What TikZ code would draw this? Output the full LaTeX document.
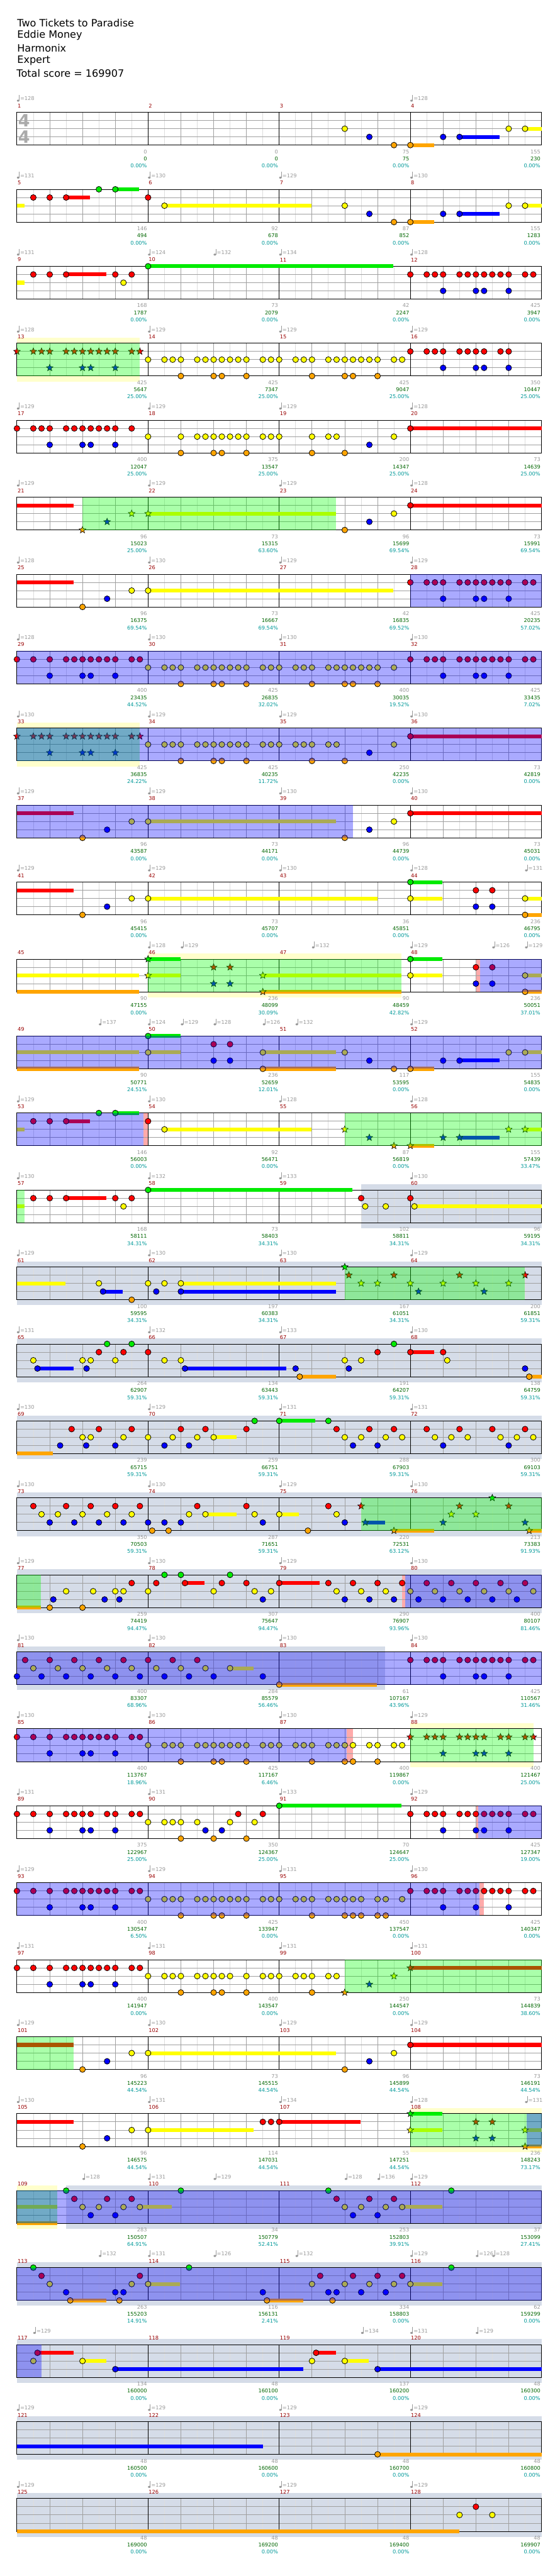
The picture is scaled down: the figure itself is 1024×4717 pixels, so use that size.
\documentclass[tikz,border=0pt]{standalone}
\usepackage{fontspec}
\setmainfont{DejaVu Sans}
\usetikzlibrary{shapes.geometric}
\definecolor{lane0}{RGB}{0,235,0}
\definecolor{lane1}{RGB}{255,0,0}
\definecolor{lane2}{RGB}{255,255,0}
\definecolor{lane3}{RGB}{0,0,255}
\definecolor{lane4}{RGB}{255,165,0}
\definecolor{spG}{RGB}{0,255,0}
\definecolor{odB}{RGB}{0,0,255}
\definecolor{ybC}{RGB}{255,255,204}
\definecolor{gbC}{RGB}{213,220,232}
\definecolor{pkC}{RGB}{255,170,170}
\definecolor{gridL}{RGB}{221,221,221}
\definecolor{gridD}{RGB}{160,160,160}
\definecolor{txG}{RGB}{153,153,153}
\definecolor{mnC}{RGB}{153,0,0}
\definecolor{scG}{RGB}{0,102,0}
\definecolor{scT}{RGB}{0,153,153}
\definecolor{tsC}{RGB}{170,170,170}
\tikzset{
  rowat/.style={xshift=31pt,yshift={-(205.7+140.95*#1)*1pt}},
  notec/.style={draw=black,line width=0.9pt},
  starn/.style={star,star points=5,star point ratio=2.3,minimum size=13pt,inner sep=0pt,draw=black,line width=0.7pt},
  lbl/.style={font=\fontsize{9.5}{10}\selectfont,inner sep=0pt},
}
\newcommand\Nt[2]{\foreach \p in {#2}{\filldraw[notec,fill=lane#1] (\p,{15*#1}) circle[radius=5.3pt];}}
\newcommand\Su[3]{\fill[lane#1] (#2,{15*#1-3.5}) rectangle (#3,{15*#1+3.5});}
\newcommand\Sr[2]{\foreach \p in {#2}{\node[starn,fill=lane#1] at (\p,{15*#1}) {};}}
\newcommand\SP[2]{\fill[spG,opacity=0.3333] (#1,0) rectangle (#2,60);}
\newcommand\OD[2]{\fill[odB,opacity=0.3333] (#1,0) rectangle (#2,60);}
\newcommand\YB[2]{\fill[ybC] (#1,-10) rectangle (#2,0); \fill[ybC] (#1,60) rectangle (#2,70);}
\newcommand\GB[2]{\fill[gbC] (#1,-10) rectangle (#2,70);}
\newcommand\PK[2]{\fill[pkC] (#1,0) rectangle (#2,60);}
\newcommand\Grid{%
 \foreach \i in {2,6,...,62} \draw[gridL] (\i,0) -- (\i,60);
 \foreach \yy in {15,30,45} \draw[gridD] (0,\yy) -- (64,\yy);
 \foreach \i in {4,8,12,20,24,28,36,40,44,52,56,60} \draw[gridD] (\i,0) -- (\i,60);
 \foreach \i in {16,32,48} \draw[black] (\i,0) -- (\i,60);
 \draw[black] (0,0) rectangle (64,60);}
\newcommand\Ms[1]{\gdef\curm{#1}\foreach \i [evaluate=\i as \mm using int(#1+\i)] in {0,1,2,3}{\node[lbl,text=mnC,anchor=west] (mn\mm) at ({16*\i+0.05},-12) {\mm};}}
\newcommand\Tp[2]{\fill[txG] ({#1+0.15},-21.4) ellipse[x radius=2.4pt,y radius=1.9pt];
 \draw[txG,line width=0.9pt] ({#1+0.27},-21.5) -- ({#1+0.27},-32);
 \node[lbl,text=txG,anchor=west] (tp\curm x#1) at ({#1+0.36},-25) {=#2};}
\newcommand\Sc[4]{%
 \node[lbl,text=txG,anchor=east] (sa\curm x#1) at ({16*#1-0.1},72) {#2};
 \node[lbl,text=scG,anchor=east] (sb\curm x#1) at ({16*#1-0.1},85) {#3};
 \node[lbl,text=scT,anchor=east] (sc\curm x#1) at ({16*#1-0.1},98) {#4\%};}
\begin{document}
\begin{tikzpicture}[x=15pt,y=-1pt,line width=1pt]
\useasboundingbox[fill=white] (0pt,0pt) rectangle (1024pt,-4717pt);
\begin{scope}[font=\fontsize{18.5}{20}\selectfont]
\node[anchor=west,inner sep=0pt] (t1) at (31pt,-42pt) {Two Tickets to Paradise};
\node[anchor=west,inner sep=0pt] (t2) at (31pt,-65pt) {Eddie Money};
\node[anchor=west,inner sep=0pt] (t3) at (31pt,-88pt) {Harmonix};
\node[anchor=west,inner sep=0pt] (t4) at (31pt,-111pt) {Expert};
\node[anchor=west,inner sep=0pt] (t5) at (30pt,-134pt) {Total score = 169907};
\end{scope}
% ---------- row 0
\begin{scope}[rowat=0]
\Grid
\node[font=\bfseries\fontsize{31}{31}\selectfont,text=tsC,inner sep=0pt] (ts1) at (0.87,15.5) {4};
\node[font=\bfseries\fontsize{31}{31}\selectfont,text=tsC,inner sep=0pt] (ts2) at (0.87,45) {4};
\Ms{1}\Tp{0}{128}\Tp{48}{128}
\Sc{1}{0}{0}{0.00}\Sc{2}{0}{0}{0.00}\Sc{3}{75}{75}{0.00}\Sc{4}{155}{230}{0.00}
\Su{4}{48}{50.9}\Su{3}{54}{58.9}\Su{2}{62}{64}
\Nt{2}{40,60,62}\Nt{3}{43,52,54}\Nt{4}{46,48}
\end{scope}
% ---------- row 1
\begin{scope}[rowat=1]
\Grid
\Ms{5}\Tp{0}{131}\Tp{16}{130}\Tp{32}{129}\Tp{48}{130}
\Sc{1}{146}{494}{0.00}\Sc{2}{92}{678}{0.00}\Sc{3}{87}{852}{0.00}\Sc{4}{155}{1283}{0.00}
\Su{2}{0}{0.9}\Su{1}{6}{8.9}\Su{0}{12}{14.9}\Su{2}{18}{35.9}\Su{4}{48}{50.9}\Su{3}{54}{58.9}\Su{2}{62}{64}
\Nt{1}{2,4,6,16}\Nt{0}{10,12}\Nt{2}{18,40,60,62}\Nt{3}{43,52,54}\Nt{4}{46,48}
\end{scope}
% ---------- row 2
\begin{scope}[rowat=2]
\Grid
\Ms{9}\Tp{0}{131}\Tp{16}{124}\Tp{24}{132}\Tp{32}{134}\Tp{48}{128}
\Sc{1}{168}{1787}{0.00}\Sc{2}{73}{2079}{0.00}\Sc{3}{42}{2247}{0.00}\Sc{4}{425}{3947}{0.00}
\Su{2}{0}{0.9}\Su{1}{6}{10.9}\Su{0}{16}{45.9}
\Nt{1}{2,4,6,12,14,48,50,51,52,54,55,56,57,58,59,60,62,63}\Nt{2}{13}\Nt{0}{16}\Nt{3}{52,56,57,60}
\end{scope}
% ---------- row 3
\begin{scope}[rowat=3]
\YB{0}{14.98}
\Grid
\Ms{13}\Tp{0}{128}\Tp{16}{129}\Tp{32}{129}\Tp{48}{129}
\Sc{1}{425}{5647}{25.00}\Sc{2}{425}{7347}{25.00}\Sc{3}{425}{9047}{25.00}\Sc{4}{350}{10447}{25.00}
\Sr{1}{0,2,3,4,6,7,8,9,10,11,12,14,15}\Sr{3}{4,8,9,12}
\Nt{2}{16,18,19,20,22,23,24,25,26,27,28,30,31,32,34,35,36,38,39,40,41,42,43,44,46,47}
\Nt{4}{20,24,25,28,36,40,41,44}\Nt{1}{48,50,51,52,54,55,56,57,59,60}\Nt{3}{52,56,57,60}
\SP{0}{14.98}
\end{scope}
% ---------- row 4
\begin{scope}[rowat=4]
\Grid
\Ms{17}\Tp{0}{129}\Tp{16}{129}\Tp{32}{129}\Tp{48}{128}
\Sc{1}{400}{12047}{25.00}\Sc{2}{375}{13547}{25.00}\Sc{3}{200}{14347}{25.00}\Sc{4}{73}{14639}{25.00}
\Su{1}{48}{64}
\Nt{1}{0,2,3,4,6,7,8,9,10,11,12,14,48}\Nt{3}{4,8,9,12,43}
\Nt{2}{16,20,22,23,24,25,26,27,28,30,31,32,36,38,39,46}\Nt{4}{20,24,25,28,36,40}
\end{scope}
% ---------- row 5
\begin{scope}[rowat=5]
\Grid
\Ms{21}\Tp{0}{129}\Tp{16}{129}\Tp{32}{129}\Tp{48}{128}
\Sc{1}{96}{15023}{25.00}\Sc{2}{73}{15315}{63.60}\Sc{3}{96}{15699}{69.54}\Sc{4}{73}{15991}{69.54}
\Su{1}{0}{6.9}\Su{2}{16}{38.9}\Su{1}{48}{64}
\Sr{4}{8}\Sr{3}{11}\Sr{2}{14,16}
\Nt{4}{40}\Nt{3}{43}\Nt{2}{46}\Nt{1}{48}
\SP{8}{38.9}
\end{scope}
% ---------- row 6
\begin{scope}[rowat=6]
\Grid
\Ms{25}\Tp{0}{128}\Tp{16}{130}\Tp{32}{129}\Tp{48}{129}
\Sc{1}{96}{16375}{69.54}\Sc{2}{73}{16667}{69.54}\Sc{3}{42}{16835}{69.52}\Sc{4}{425}{20235}{57.02}
\Su{1}{0}{6.9}\Su{2}{16}{45.9}
\Nt{4}{8}\Nt{3}{11,52,56,57,60}\Nt{2}{14,16}\Nt{1}{48,50,51,52,54,55,56,57,58,59,60,62,63}
\OD{48}{64}
\end{scope}
% ---------- row 7
\begin{scope}[rowat=7]
\Grid
\Ms{29}\Tp{0}{128}\Tp{16}{130}\Tp{32}{130}\Tp{48}{130}
\Sc{1}{400}{23435}{44.52}\Sc{2}{425}{26835}{32.02}\Sc{3}{400}{30035}{19.52}\Sc{4}{425}{33435}{7.02}
\Nt{1}{0,2,4,6,7,8,9,10,11,12,14,15,48,50,51,52,54,55,56,57,58,59,60,62,63}\Nt{3}{4,8,9,12,52,56,57,60}
\Nt{2}{16,18,19,20,22,23,24,25,26,27,28,30,31,32,34,35,36,38,39,40,41,42,43,44,46}\Nt{4}{20,24,25,28,36,40,41,44}
\OD{0}{64}
\end{scope}
% ---------- row 8
\begin{scope}[rowat=8]
\YB{0}{14.98}
\Grid
\Ms{33}\Tp{0}{130}\Tp{16}{129}\Tp{32}{129}\Tp{48}{130}
\Sc{1}{425}{36835}{24.22}\Sc{2}{425}{40235}{11.72}\Sc{3}{250}{42235}{0.00}\Sc{4}{73}{42819}{0.00}
\Su{1}{48}{64}
\Sr{1}{0,2,3,4,6,7,8,9,10,11,12,14,15}\Sr{3}{4,8,9,12}
\Nt{2}{16,18,19,20,22,23,24,25,26,27,28,30,31,32,34,35,36,38,39,46}\Nt{4}{20,24,25,28,36,40}\Nt{3}{43}\Nt{1}{48}
\SP{0}{14.98}\OD{0}{64}
\end{scope}
% ---------- row 9
\begin{scope}[rowat=9]
\Grid
\Ms{37}\Tp{0}{129}\Tp{16}{129}\Tp{32}{130}\Tp{48}{130}
\Sc{1}{96}{43587}{0.00}\Sc{2}{73}{44171}{0.00}\Sc{3}{96}{44739}{0.00}\Sc{4}{73}{45031}{0.00}
\Su{1}{0}{6.9}\Su{2}{16}{38.9}\Su{1}{48}{64}
\Nt{4}{8,40}\Nt{3}{11,43}\Nt{2}{14,16,46}\Nt{1}{48}
\OD{0}{40.97}
\end{scope}
% ---------- row 10
\begin{scope}[rowat=10]
\Grid
\Ms{41}\Tp{0}{129}\Tp{16}{129}\Tp{32}{130}\Tp{48}{128}\Tp{62}{131}
\Sc{1}{96}{45415}{0.00}\Sc{2}{73}{45707}{0.00}\Sc{3}{36}{45851}{0.00}\Sc{4}{236}{46795}{0.00}
\Su{1}{0}{6.9}\Su{2}{16}{44}\Su{0}{48}{51.9}\Su{2}{48}{51.9}\Su{2}{62}{64}\Su{4}{62}{64}
\Nt{4}{8,62}\Nt{3}{11,56,58}\Nt{2}{14,16,48,62}\Nt{0}{48}\Nt{1}{56,58}
\end{scope}
% ---------- row 11
\begin{scope}[rowat=11]
\YB{16}{46.9}\PK{56}{56.5}
\Grid
\Ms{45}\Tp{16}{128}\Tp{20}{129}\Tp{36}{132}\Tp{48}{129}\Tp{58}{126}\Tp{62}{129}
\Sc{1}{90}{47155}{0.00}\Sc{2}{236}{48099}{30.09}\Sc{3}{90}{48459}{42.82}\Sc{4}{236}{50051}{37.01}
\Su{2}{0}{14.9}\Su{4}{0}{14.9}\Su{0}{16}{20}\Su{2}{16}{20}\Su{2}{30}{46.9}\Su{4}{30}{46.9}
\Su{0}{48}{51.9}\Su{2}{48}{51.9}\Su{2}{62}{64}\Su{4}{62}{64}
\Sr{0}{16}\Sr{2}{16,30}\Sr{1}{24,26}\Sr{3}{24,26}\Sr{4}{30}
\Nt{0}{48}\Nt{2}{48,62}\Nt{1}{56,58}\Nt{3}{56,58}\Nt{4}{62}
\SP{16}{46.9}\OD{56.5}{64}
\end{scope}
% ---------- row 12
\begin{scope}[rowat=12]
\Grid
\Ms{49}\Tp{10}{137}\Tp{16}{124}\Tp{20}{129}\Tp{24}{128}\Tp{30}{126}\Tp{34}{132}\Tp{48}{129}
\Sc{1}{90}{50771}{24.51}\Sc{2}{236}{52659}{12.01}\Sc{3}{117}{53595}{0.00}\Sc{4}{155}{54835}{0.00}
\Su{2}{0}{14.9}\Su{4}{0}{14.9}\Su{0}{16}{20}\Su{2}{16}{20}\Su{2}{30}{38.9}\Su{4}{30}{38.9}
\Su{4}{48}{50.9}\Su{3}{54}{58.9}\Su{2}{62}{64}
\Nt{0}{16}\Nt{2}{16,30,40,60,62}\Nt{1}{24,26}\Nt{3}{24,26,43,52,54}\Nt{4}{30,46,48}
\OD{0}{64}
\end{scope}
% ---------- row 13
\begin{scope}[rowat=13]
\PK{15.4}{16}
\Grid
\Ms{53}\Tp{0}{129}\Tp{16}{130}\Tp{32}{128}\Tp{48}{128}
\Sc{1}{146}{56003}{0.00}\Sc{2}{92}{56471}{0.00}\Sc{3}{87}{56819}{0.00}\Sc{4}{155}{57439}{33.47}
\Su{2}{0}{0.9}\Su{1}{6}{8.9}\Su{0}{12}{14.9}\Su{2}{18}{35.9}\Su{4}{48}{50.9}\Su{3}{54}{58.9}\Su{2}{62}{64}
\Nt{1}{2,4,6,16}\Nt{0}{10,12}\Nt{2}{18}
\Sr{2}{40,60,62}\Sr{3}{43,52,54}\Sr{4}{46,48}
\OD{0}{15.4}\SP{40}{64}
\end{scope}
% ---------- row 14
\begin{scope}[rowat=14]
\GB{42}{64}
\Grid
\Ms{57}\Tp{0}{130}\Tp{16}{132}\Tp{32}{133}\Tp{48}{130}
\Sc{1}{168}{58111}{34.31}\Sc{2}{73}{58403}{34.31}\Sc{3}{102}{58811}{34.31}\Sc{4}{96}{59195}{34.31}
\Su{2}{0}{0.9}\Su{1}{6}{10.9}\Su{0}{16}{40.9}\Su{2}{48.5}{64}
\Nt{1}{2,4,6,12,14,42,48}\Nt{2}{13,42.5,45,48.5}\Nt{0}{16}
\SP{0}{0.9}
\end{scope}
% ---------- row 15
\begin{scope}[rowat=15]
\GB{0}{64}
\Grid
\Ms{61}\Tp{0}{129}\Tp{16}{130}\Tp{32}{130}\Tp{48}{129}
\Sc{1}{100}{59595}{34.31}\Sc{2}{197}{60383}{34.31}\Sc{3}{167}{61051}{34.31}\Sc{4}{200}{61851}{59.31}
\Su{2}{0}{5.9}\Su{3}{10.5}{12.9}\Su{2}{20}{38.9}\Su{3}{20}{38.9}
\Nt{2}{10,16,18,20}\Nt{3}{10.5,17,20}\Nt{4}{14}
\Sr{0}{40}\Sr{1}{40.5,46,54,62}\Sr{2}{42,44,48,52,56,60}\Sr{3}{49,57}
\SP{40}{62}
\end{scope}
% ---------- row 16
\begin{scope}[rowat=16]
\GB{0}{64}
\Grid
\Ms{65}\Tp{0}{131}\Tp{16}{132}\Tp{32}{133}\Tp{48}{130}
\Sc{1}{264}{62907}{59.31}\Sc{2}{134}{63443}{59.31}\Sc{3}{191}{64207}{59.31}\Sc{4}{138}{64759}{59.31}
\Su{3}{2.5}{6.9}\Su{3}{20.5}{32.9}\Su{4}{34.5}{38.9}\Su{1}{48}{50.9}\Su{4}{62.5}{64}
\Nt{2}{2,8,9,12,18,20,40,42,52.5}\Nt{3}{2.5,8.5,20.5,34,40.5,62}\Nt{1}{10,13,16,44,48,52}\Nt{0}{11,14,46}\Nt{4}{34.5,62.5}
\end{scope}
% ---------- row 17
\begin{scope}[rowat=17]
\GB{0}{64}
\Grid
\Ms{69}\Tp{0}{130}\Tp{16}{129}\Tp{32}{131}\Tp{48}{131}
\Sc{1}{239}{65715}{59.31}\Sc{2}{259}{66751}{59.31}\Sc{3}{288}{67903}{59.31}\Sc{4}{300}{69103}{59.31}
\Su{4}{0}{4.4}\Su{2}{24}{26.8}\Su{0}{32}{36.4}
\Nt{3}{5.27,8.45,12,18,21,41,44,52,60}
\Nt{1}{6.67,10,14,20,23,28,39,43,46,50,54,58,62}
\Nt{2}{8,9,13,16,19,22,24,40,42,45,47,51,53,55,59,61,63}
\Nt{0}{29,32,38}
\end{scope}
% ---------- row 18
\begin{scope}[rowat=18]
\GB{0}{64}
\Grid
\Ms{73}\Tp{0}{130}\Tp{16}{130}\Tp{32}{129}\Tp{48}{130}
\Sc{1}{350}{70503}{59.31}\Sc{2}{287}{71651}{59.31}\Sc{3}{220}{72531}{63.12}\Sc{4}{213}{73383}{91.93}
\Su{2}{23}{26.8}\Su{2}{32}{34.4}\Su{3}{42.5}{44.9}\Su{4}{46}{50.9}\Su{4}{62.5}{64}
\Nt{1}{2,6,9,12,15,22,28,38}\Nt{2}{3,5,8,11,14,21,23,29,32,39}\Nt{3}{4,7,10,13,16,18,20,30,40}\Nt{4}{16.5,18.5,35.5}
\Sr{1}{42,54,60}\Sr{3}{42.5,52,62}\Sr{4}{46,62.5}\Sr{2}{53,56}\Sr{0}{58}
\SP{42}{64}
\end{scope}
% ---------- row 19
\begin{scope}[rowat=19]
\GB{0}{64}\PK{47}{47.4}
\Grid
\Ms{77}\Tp{0}{129}\Tp{16}{130}\Tp{32}{129}\Tp{48}{130}
\Sc{1}{259}{74419}{94.47}\Sc{2}{307}{75647}{94.47}\Sc{3}{290}{76907}{93.96}\Sc{4}{400}{80107}{81.46}
\Su{4}{0}{2.9}\Su{1}{20.5}{22.9}\Su{1}{32}{36.9}
\Nt{4}{4,8}\Nt{3}{4.44,10.7,12.5,30,40,43,46,49,52,55,58,61}
\Nt{2}{6,9.3,12,13,16,24,29,31,39,42,45,48,51,54,57,60,63}
\Nt{1}{14,17,20.5,25,28,32,38,41,44,47,50,53,56,59,62}
\Nt{0}{18,20,26}
\SP{0}{2.9}\OD{47.4}{64}
\end{scope}
% ---------- row 20
\begin{scope}[rowat=20]
\GB{0}{44.9}
\Grid
\Ms{81}\Tp{0}{130}\Tp{16}{130}\Tp{32}{130}\Tp{48}{130}
\Sc{1}{400}{83307}{68.96}\Sc{2}{284}{85579}{56.46}\Sc{3}{61}{107167}{43.96}\Sc{4}{425}{110567}{31.46}
\Su{2}{26}{28.9}\Su{4}{32}{43.9}
\Nt{1}{1,4,7,10,13,16,19,22,48,50,51,52,54,55,56,57,58,59,60,62,63}\Nt{2}{2,5,8,11,14,17,20,23,26}
\Nt{3}{0,3,6,9,12,15,18,21,24,30,52,56,57,60}\Nt{4}{32}
\OD{0}{64}
\end{scope}
% ---------- row 21
\begin{scope}[rowat=21]
\YB{48}{63}\PK{40.2}{41}
\Grid
\Ms{85}\Tp{0}{130}\Tp{16}{130}\Tp{32}{130}\Tp{48}{129}
\Sc{1}{400}{113767}{18.96}\Sc{2}{425}{117167}{6.46}\Sc{3}{400}{119867}{0.00}\Sc{4}{400}{121467}{25.00}
\Nt{1}{0,2,4,6,7,8,9,10,11,12,14,15}\Nt{3}{4,8,9,12}
\Nt{2}{16,18,19,20,22,23,24,25,26,27,28,30,31,32,34,35,36,38,39,40,41,43,44,46,47}\Nt{4}{20,24,25,28,36,40,41,44}
\Sr{1}{48,50,51,52,54,55,56,57,59,60,62,63}\Sr{3}{52,56,57,60}
\OD{0}{40.2}\SP{48}{63}
\end{scope}
% ---------- row 22
\begin{scope}[rowat=22]
\PK{56}{56.3}
\Grid
\Ms{89}\Tp{0}{131}\Tp{16}{131}\Tp{32}{133}\Tp{48}{129}
\Sc{1}{375}{122967}{25.00}\Sc{2}{350}{124367}{25.00}\Sc{3}{70}{124647}{25.00}\Sc{4}{425}{127347}{19.00}
\Su{0}{32}{46.9}
\Nt{1}{0,2,4,6,7,8,9,11,12,14,15,27,30,48,50,51,52,54,55,56,57,58,59,60,62,63}\Nt{3}{4,8,9,12,23,25,52,56,57,60}
\Nt{2}{16,18,19,20,22,26,29}\Nt{4}{20,24,28}\Nt{0}{32}
\OD{56.3}{64}
\end{scope}
% ---------- row 23
\begin{scope}[rowat=23]
\PK{56.4}{57}
\Grid
\Ms{93}\Tp{0}{129}\Tp{16}{129}\Tp{32}{131}\Tp{48}{130}
\Sc{1}{400}{130547}{6.50}\Sc{2}{425}{133947}{0.00}\Sc{3}{450}{137547}{0.00}\Sc{4}{425}{140347}{0.00}
\Nt{1}{0,2,4,6,7,8,9,10,11,12,14,15,48,50,51,52,54,55,56,57,58,59,60,62,63}\Nt{3}{4,8,9,12,52,56,60}
\Nt{2}{16,18,19,20,22,23,24,25,26,27,28,30,31,32,34,35,36,38,39,40,41,42,44,45,47}\Nt{4}{20,24,25,28,36,40,41,42,44,45}
\OD{0}{56.4}
\end{scope}
% ---------- row 24
\begin{scope}[rowat=24]
\Grid
\Ms{97}\Tp{0}{131}\Tp{16}{131}\Tp{32}{131}\Tp{48}{131}
\Sc{1}{400}{141947}{0.00}\Sc{2}{400}{143547}{0.00}\Sc{3}{250}{144547}{0.00}\Sc{4}{73}{144839}{38.60}
\Su{1}{48}{64}
\Nt{1}{0,2,4,6,7,8,9,10,11,12,14,15}\Nt{3}{4,8,9,12}\Nt{2}{16,18,19,20,22,23,24,25,26,28,30,31,32,34,35,36,38,39}\Nt{4}{20,24,25,28,36}
\Sr{4}{40}\Sr{3}{43}\Sr{2}{46}\Sr{1}{48}
\SP{40}{64}
\end{scope}
% ---------- row 25
\begin{scope}[rowat=25]
\Grid
\Ms{101}\Tp{0}{129}\Tp{16}{130}\Tp{32}{129}\Tp{48}{129}
\Sc{1}{96}{145223}{44.54}\Sc{2}{73}{145515}{44.54}\Sc{3}{96}{145899}{44.54}\Sc{4}{73}{146191}{44.54}
\Su{1}{0}{6.9}\Su{2}{16}{38.9}\Su{1}{48}{64}
\Nt{4}{8,40}\Nt{3}{11,43}\Nt{2}{14,16,46}\Nt{1}{48}
\SP{0}{6.9}
\end{scope}
% ---------- row 26
\begin{scope}[rowat=26]
\YB{48}{64}
\Grid
\Ms{105}\Tp{0}{130}\Tp{16}{131}\Tp{32}{134}\Tp{48}{128}\Tp{62}{131}
\Sc{1}{96}{146575}{44.54}\Sc{2}{114}{147031}{44.54}\Sc{3}{55}{147251}{44.54}\Sc{4}{236}{148243}{73.17}
\Su{1}{0}{6.9}\Su{2}{16}{28.9}\Su{1}{32}{41.9}\Su{0}{48}{51.9}\Su{2}{48}{51.9}\Su{2}{62}{64}\Su{4}{62}{64}
\Nt{4}{8}\Nt{3}{11}\Nt{2}{14,16}\Nt{1}{30,31,32}
\Sr{0}{48}\Sr{2}{48,62}\Sr{1}{56,58}\Sr{3}{56,58}\Sr{4}{62}
\SP{48}{64}\OD{62.2}{64}
\end{scope}
% ---------- row 27
\begin{scope}[rowat=27]
\YB{0}{4.9}\GB{6}{64}
\Grid
\Ms{109}\Tp{8}{128}\Tp{16}{131}\Tp{24}{129}\Tp{40}{128}\Tp{44}{136}\Tp{48}{129}
\Sc{1}{283}{150507}{64.91}\Sc{2}{34}{150779}{52.41}\Sc{3}{253}{152803}{39.91}\Sc{4}{37}{153099}{27.41}
\Su{2}{0}{4.9}\Su{4}{0}{4.9}\Su{2}{15}{18.9}\Su{2}{47}{51.9}
\Nt{0}{6,20,38,53}\Nt{1}{7,11,14,39,43,46}\Nt{2}{8,10,13,15,40,42,45,47}\Nt{3}{9,12,41,44}
\SP{0}{4.9}\OD{0}{64}
\end{scope}
% ---------- row 28
\begin{scope}[rowat=28]
\GB{0}{64}
\Grid
\Ms{113}\Tp{10}{132}\Tp{16}{131}\Tp{24}{126}\Tp{34}{132}\Tp{48}{129}\Tp{56}{126}\Tp{58}{128}
\Sc{1}{263}{155203}{14.91}\Sc{2}{116}{156131}{2.41}\Sc{3}{334}{158803}{0.00}\Sc{4}{62}{159299}{0.00}
\Su{4}{6.5}{10.9}\Su{2}{16}{19.9}\Su{4}{30.5}{34.9}\Su{2}{48}{51.9}
\Nt{0}{2,21,53}\Nt{1}{3,15,37,41,44,47}\Nt{2}{4,14,16,36,40,43,46,48}\Nt{3}{6,12,13,30,38,39,42,45}\Nt{4}{6.5,12.5,30.5,38.5}
\OD{0}{64}
\end{scope}
% ---------- row 29
\begin{scope}[rowat=29]
\GB{0}{64}
\Grid
\Ms{117}\Tp{2}{129}\Tp{42}{134}\Tp{48}{131}\Tp{56}{129}
\Sc{1}{134}{160000}{0.00}\Sc{2}{48}{160100}{0.00}\Sc{3}{137}{160200}{0.00}\Sc{4}{48}{160300}{0.00}
\Su{1}{2.5}{6.9}\Su{2}{8}{10.9}\Su{3}{12}{34.9}\Su{1}{36.5}{38.9}\Su{2}{40}{42.9}\Su{3}{44}{64}
\Nt{2}{2,8,36,40}\Nt{1}{2.5,36.5}\Nt{3}{12,44}
\OD{0}{3}
\end{scope}
% ---------- row 30
\begin{scope}[rowat=30]
\GB{0}{64}
\Grid
\Ms{121}\Tp{0}{129}\Tp{16}{129}\Tp{32}{129}\Tp{48}{129}
\Sc{1}{48}{160500}{0.00}\Sc{2}{48}{160600}{0.00}\Sc{3}{48}{160700}{0.00}\Sc{4}{48}{160800}{0.00}
\Su{3}{0}{30}\Su{4}{44}{64}
\Nt{4}{44}
\end{scope}
% ---------- row 31
\begin{scope}[rowat=31]
\GB{0}{64}
\Grid
\Ms{125}\Tp{0}{129}\Tp{16}{129}\Tp{32}{129}\Tp{48}{129}
\Sc{1}{48}{169000}{0.00}\Sc{2}{48}{169200}{0.00}\Sc{3}{48}{169400}{0.00}\Sc{4}{48}{169907}{0.00}
\Su{4}{0}{54}
\Nt{2}{54,58}\Nt{1}{56}
\end{scope}
\end{tikzpicture}
\end{document}
